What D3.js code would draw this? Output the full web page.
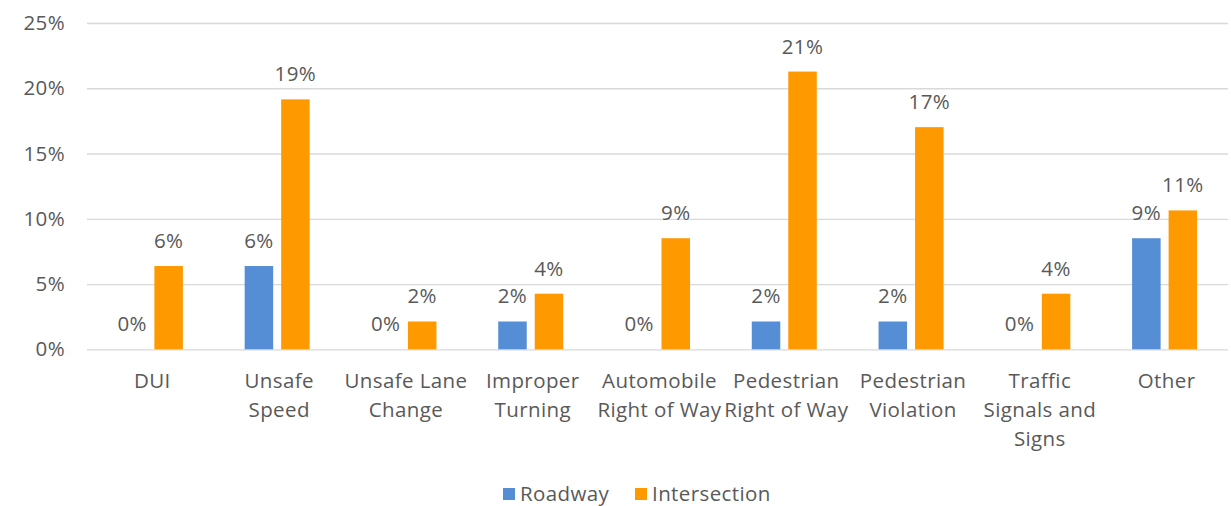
<!DOCTYPE html>
<html>
<head>
<meta charset="utf-8">
<script src="https://cdn.jsdelivr.net/npm/d3@7"></script>
<style>
  html, body { margin: 0; padding: 0; background: #fff; }
  svg { display: block; }
  text { font-family: "Open Sans", "Noto Sans", sans-serif; fill: #595959; letter-spacing: 0.4px; }
</style>
</head>
<body>
<svg id="chart" width="1231" height="506"></svg>
<script>
// Share of collisions by primary cause, split by location type (%)
const categories = [
  "DUI",
  "Unsafe\nSpeed",
  "Unsafe Lane\nChange",
  "Improper\nTurning",
  "Automobile\nRight of Way",
  "Pedestrian\nRight of Way",
  "Pedestrian\nViolation",
  "Traffic\nSignals and\nSigns",
  "Other"
];
const seriesNames = ["Roadway", "Intersection"];
const roadway      = [0, 6.38, 0, 2.13, 0, 2.13, 2.13, 0, 8.51];
const intersection = [6.38, 19.15, 2.13, 4.26, 8.51, 21.28, 17.02, 4.26, 10.64];
const yTicks = [0, 5, 10, 15, 20, 25];
const colors = ["#558ED5", "#FF9900"];

const svg = d3.select("#chart");
const plotLeft = 87, plotRight = 1228, plotTop = 23, plotBottom = 349.3;
const fontSize = 20.5;

const x = d3.scaleBand().domain(categories).range([plotLeft, plotRight]).padding(0);
const xs = d3.scaleBand().domain(seriesNames).range([0, x.bandwidth()])
  .paddingInner(0.219).paddingOuter(0.846);
const y = d3.scaleLinear().domain([0, 25]).range([plotBottom, plotTop]);

// Horizontal gridlines with percent tick labels
const yAxis = d3.axisLeft(y).tickValues(yTicks)
  .tickSize(-(plotRight - plotLeft)).tickPadding(22)
  .tickFormat(d => d + "%");
const gy = svg.append("g").attr("transform", `translate(${plotLeft},0)`).call(yAxis);
gy.select(".domain").remove();
gy.selectAll(".tick line").attr("stroke", "#D9D9D9").attr("stroke-width", 1.3);
gy.selectAll(".tick text").attr("font-size", fontSize).attr("fill", "#595959")
  .attr("font-family", "\"Open Sans\", sans-serif");

// Bars
const rows = categories.map((c, i) => ({ cat: c, vals: [roadway[i], intersection[i]] }));
const groups = svg.append("g").selectAll("g").data(rows).join("g")
  .attr("transform", d => `translate(${x(d.cat)},0)`);

groups.selectAll("rect").data(d => d.vals.map((v, k) => ({ v, k })))
  .join("rect")
  .attr("x", d => xs(seriesNames[d.k]))
  .attr("width", xs.bandwidth())
  .attr("y", d => y(d.v))
  .attr("height", d => y(0) - y(d.v))
  .attr("fill", d => colors[d.k]);

// Value labels
groups.selectAll("text.val").data(d => d.vals.map((v, k) => ({ v, k })))
  .join("text")
  .attr("class", "val")
  .attr("x", d => xs(seriesNames[d.k]) + xs.bandwidth() / 2)
  .attr("y", d => y(d.v) - 18)
  .attr("text-anchor", "middle")
  .attr("font-size", fontSize)
  .text(d => Math.round(d.v) + "%");

// Category labels
const xl = svg.append("g");
categories.forEach(c => {
  const cx = x(c) + x.bandwidth() / 2 + 2;
  const t = xl.append("text")
    .attr("x", cx)
    .attr("y", 387.7)
    .attr("text-anchor", "middle")
    .attr("font-size", fontSize);
  c.split("\n").forEach((line, i) => {
    t.append("tspan").attr("x", cx).attr("dy", i === 0 ? 0 : 29).text(line);
  });
});

// Legend
const legend = svg.append("g").attr("transform", "translate(503,488)");
const legendX = [0, 132];
seriesNames.forEach((s, i) => {
  const g = legend.append("g").attr("transform", `translate(${legendX[i]},0)`);
  g.append("rect").attr("width", 12).attr("height", 12).attr("fill", colors[i]);
  g.append("text").attr("x", 17).attr("y", 12.7).attr("font-size", fontSize).text(s);
});
</script>
</body>
</html>
